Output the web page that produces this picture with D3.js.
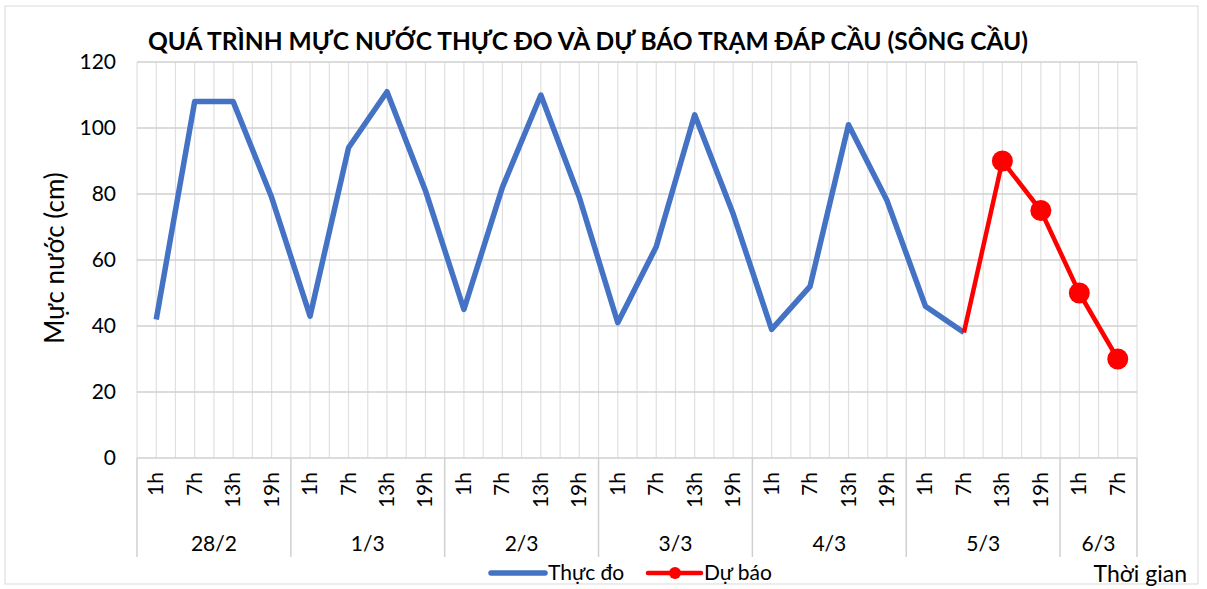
<!DOCTYPE html>
<html>
<head>
<meta charset="utf-8">
<script src="https://cdn.jsdelivr.net/npm/d3@7"></script>
<style>
body { margin:0; background:#fff; }
svg text { font-family: Lato, "Open Sans", sans-serif; fill:#000; }
</style>
</head>
<body>
<div id="chart"></div>
<script>
// data
var days = ["28/2","1/3","2/3","3/3","4/3","5/3","6/3"]
var hoursPerDay = [["1h","7h","13h","19h"],["1h","7h","13h","19h"],["1h","7h","13h","19h"],["1h","7h","13h","19h"],["1h","7h","13h","19h"],["1h","7h","13h","19h"],["1h","7h"]]
var observed = [42,108,108,79, 43,94,111,81, 45,82,110,79, 41,64,104,74, 39,52,101,78, 46,38]
var forecast = [null,null,null,null, null,null,null,null, null,null,null,null, null,null,null,null, null,null,null,null, null,38,90,75, 50,30]
var yTicks = [0,20,40,60,80,100,120]

var width = 1207, height = 589
var margin = {left:137, right:70, top:62, bottom:131}

var cats = []
hoursPerDay.forEach(function(hs, d) {
  hs.forEach(function(h) { cats.push({day:d, hour:h}) })
})

var svg = d3.select("#chart").append("svg")
  .attr("width",width).attr("height",height)

svg.append("rect")
  .attr("x",5).attr("y",6).attr("width",1193).attr("height",578)
  .attr("fill","#fff").attr("stroke","#d9d9d9").attr("stroke-width",1)

var x = d3.scaleBand()
  .domain(d3.range(cats.length))
  .range([margin.left, width - margin.right])
  .paddingInner(0).paddingOuter(0)
var bw = x.bandwidth()
function cx(i) { return x(i) + bw/2 }

var y = d3.scaleLinear()
  .domain([0,120])
  .range([height - margin.bottom, margin.top])

/* grid */
var vLines = []
cats.forEach(function(c,i) { vLines.push(x(i)); vLines.push(cx(i)) })
vLines.push(x.range()[1])
svg.selectAll(".gv").data(vLines).enter().append("line")
  .attr("x1",function(d){return d}).attr("x2",function(d){return d})
  .attr("y1",y(120)).attr("y2",y(0))
  .attr("stroke","#e0e0e0").attr("stroke-width",1.2)
svg.selectAll(".gh").data(yTicks.slice(1)).enter().append("line")
  .attr("x1",x.range()[0]).attr("x2",x.range()[1])
  .attr("y1",function(d){return y(d)}).attr("y2",function(d){return y(d)})
  .attr("stroke","#d0d0d0").attr("stroke-width",1.5)

/* y axis labels */
svg.selectAll(".yt").data(yTicks).enter().append("text")
  .attr("x",116).attr("y",function(d){return y(d) + 7})
  .attr("text-anchor","end")
  .style("font-size","21px")
  .text(function(d){return d})

svg.append("text")
  .attr("transform","translate(64,258) rotate(-90)")
  .attr("text-anchor","middle")
  .style("font-size","26px")
  .text("Mực nước (cm)")

/* category axis */
var axisG = svg.append("g")
axisG.append("line")
  .attr("x1",x.range()[0]).attr("x2",x.range()[1])
  .attr("y1",y(0)).attr("y2",y(0))
  .attr("stroke","#d0d0d0").attr("stroke-width",1.5)

var dayStarts = []
var idx = 0
hoursPerDay.forEach(function(hs) { dayStarts.push(idx); idx += hs.length })
var dayBounds = dayStarts.map(function(s){return x(s)}).concat([x.range()[1]])
axisG.selectAll(".db").data(dayBounds).enter().append("line")
  .attr("x1",function(d){return d}).attr("x2",function(d){return d})
  .attr("y1",y(0)).attr("y2",y(0) + 99)
  .attr("stroke","#d0d0d0").attr("stroke-width",1.5)

axisG.selectAll(".ht").data(cats).enter().append("text")
  .attr("transform",function(d,i){ return "translate(" + (cx(i) + 7) + "," + (y(0) + 14) + ") rotate(-90)" })
  .attr("text-anchor","end")
  .style("font-size","21px")
  .text(function(d){return d.hour})

axisG.selectAll(".dt").data(days).enter().append("text")
  .attr("x",function(d,i){ return (dayBounds[i] + dayBounds[i+1]) / 2 })
  .attr("y",y(0) + 93)
  .attr("text-anchor","middle")
  .style("font-size","21px")
  .text(function(d){return d})

/* lines */
var line = d3.line()
  .defined(function(d){return d != null})
  .x(function(d,i){return cx(i)})
  .y(function(d){return y(d)})

svg.append("path")
  .attr("d",line(observed))
  .attr("fill","none")
  .attr("stroke","#4472C4")
  .attr("stroke-width",5.5)
  .attr("stroke-linejoin","round")

svg.append("path")
  .attr("d",line(forecast))
  .attr("fill","none")
  .attr("stroke","#FF0000")
  .attr("stroke-width",4.5)
  .attr("stroke-linejoin","round")

var fPts = forecast.map(function(v,i){return {v:v, i:i}}).filter(function(d){return d.v != null}).slice(1)
svg.selectAll(".mk").data(fPts).enter().append("circle")
  .attr("cx",function(d){return cx(d.i)})
  .attr("cy",function(d){return y(d.v)})
  .attr("r",10.5)
  .attr("fill","#FF0000")

/* title */
svg.append("text")
  .attr("x",588).attr("y",50)
  .attr("text-anchor","middle")
  .attr("textLength",880)
  .attr("lengthAdjust","spacingAndGlyphs")
  .style("font-size","24px")
  .style("font-weight","bold")
  .text("QUÁ TRÌNH MỰC NƯỚC THỰC ĐO VÀ DỰ BÁO TRẠM ĐÁP CẦU (SÔNG CẦU)")

/* legend */
var lg = svg.append("g")
lg.append("line").attr("x1",491).attr("x2",545).attr("y1",573).attr("y2",573)
  .attr("stroke","#4472C4").attr("stroke-width",5.5).attr("stroke-linecap","round")
lg.append("text").attr("x",548).attr("y",580).style("font-size","21px").text("Thực đo")
lg.append("line").attr("x1",648).attr("x2",701).attr("y1",573).attr("y2",573)
  .attr("stroke","#FF0000").attr("stroke-width",4.5).attr("stroke-linecap","round")
lg.append("circle").attr("cx",675).attr("cy",573).attr("r",6).attr("fill","#FF0000")
lg.append("text").attr("x",704).attr("y",580).style("font-size","21px").text("Dự báo")

svg.append("text")
  .attr("x",1187).attr("y",582)
  .attr("text-anchor","end")
  .style("font-size","23px")
  .text("Thời gian")
</script>
</body>
</html>
